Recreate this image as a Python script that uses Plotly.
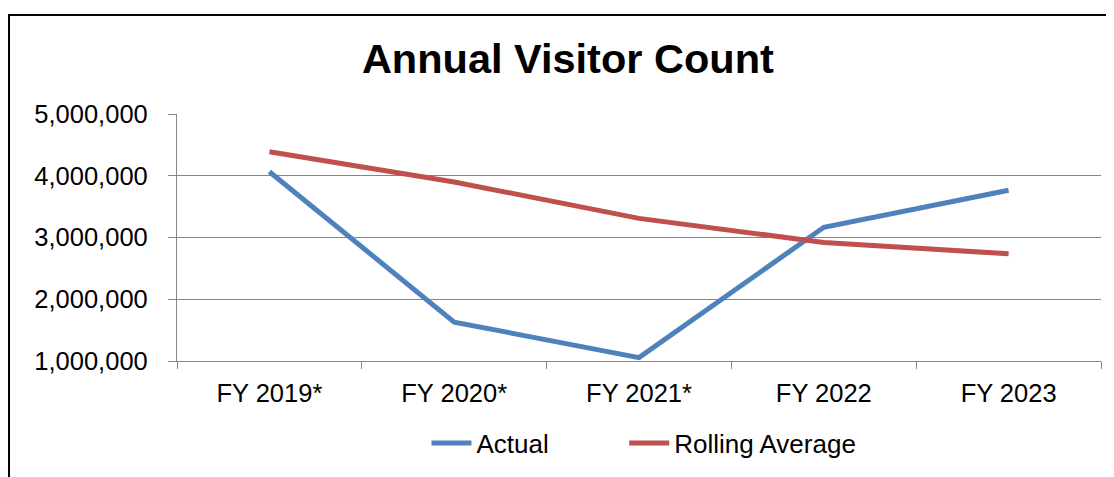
import plotly.graph_objects as go

years = ["FY 2019*", "FY 2020*", "FY 2021*", "FY 2022", "FY 2023"]
actual = [4065000, 1630000, 1055000, 3165000, 3765000]
rolling = [4390000, 3900000, 3310000, 2920000, 2735000]

grey = "#868686"

fig = go.Figure()
fig.add_trace(go.Scatter(x=years, y=actual, name="Actual", mode="lines",
                         line=dict(color="#4F81BD", width=5), legend="legend"))
fig.add_trace(go.Scatter(x=years, y=rolling, name="Rolling Average", mode="lines",
                         line=dict(color="#C0504D", width=5), legend="legend2"))

# the page body adds 8px, so margins are shifted to compensate
fig.update_layout(
    width=1114, height=477,
    margin=dict(l=169, r=21, t=106, b=124, autoexpand=False),
    paper_bgcolor="white", plot_bgcolor="white",
    font=dict(family="Liberation Sans, Arial", size=25.5, color="black"),
    title=dict(text="<b>Annual Visitor Count</b>", font=dict(size=41.5),
               x=0.423, xref="paper", xanchor="center",
               y=1 - 50 / 477, yref="container", yanchor="middle"),
    showlegend=True,
    legend=dict(orientation="h", x=0.270, xanchor="left", y=-0.332, yanchor="middle",
                font=dict(size=26), itemwidth=40, bgcolor="rgba(0,0,0,0)"),
    legend2=dict(orientation="h", x=0.484, xanchor="left", y=-0.332, yanchor="middle",
                 font=dict(size=26), itemwidth=40, bgcolor="rgba(0,0,0,0)"),
    shapes=[dict(type="rect", xref="paper", yref="paper",
                 x0=-0.1818, x1=1.2, y0=-0.8, y1=1.4008,
                 line=dict(color="black", width=2), layer="below")],
)
fig.update_xaxes(type="category", range=[-0.5, 4.5], tickson="boundaries",
                 ticks="outside", ticklen=7, tickcolor=grey, automargin=False,
                 showline=True, linecolor=grey, linewidth=1.3, showgrid=False,
                 ticklabelstandoff=9)
fig.update_yaxes(range=[1000000, 5000000], dtick=1000000, tickformat=",",
                 ticks="outside", ticklen=8, tickcolor=grey, automargin=False,
                 showline=True, linecolor=grey, linewidth=1.3,
                 showgrid=True, gridcolor=grey, gridwidth=1.3,
                 zeroline=False, ticklabelstandoff=15)

fig.write_html("out.html")
